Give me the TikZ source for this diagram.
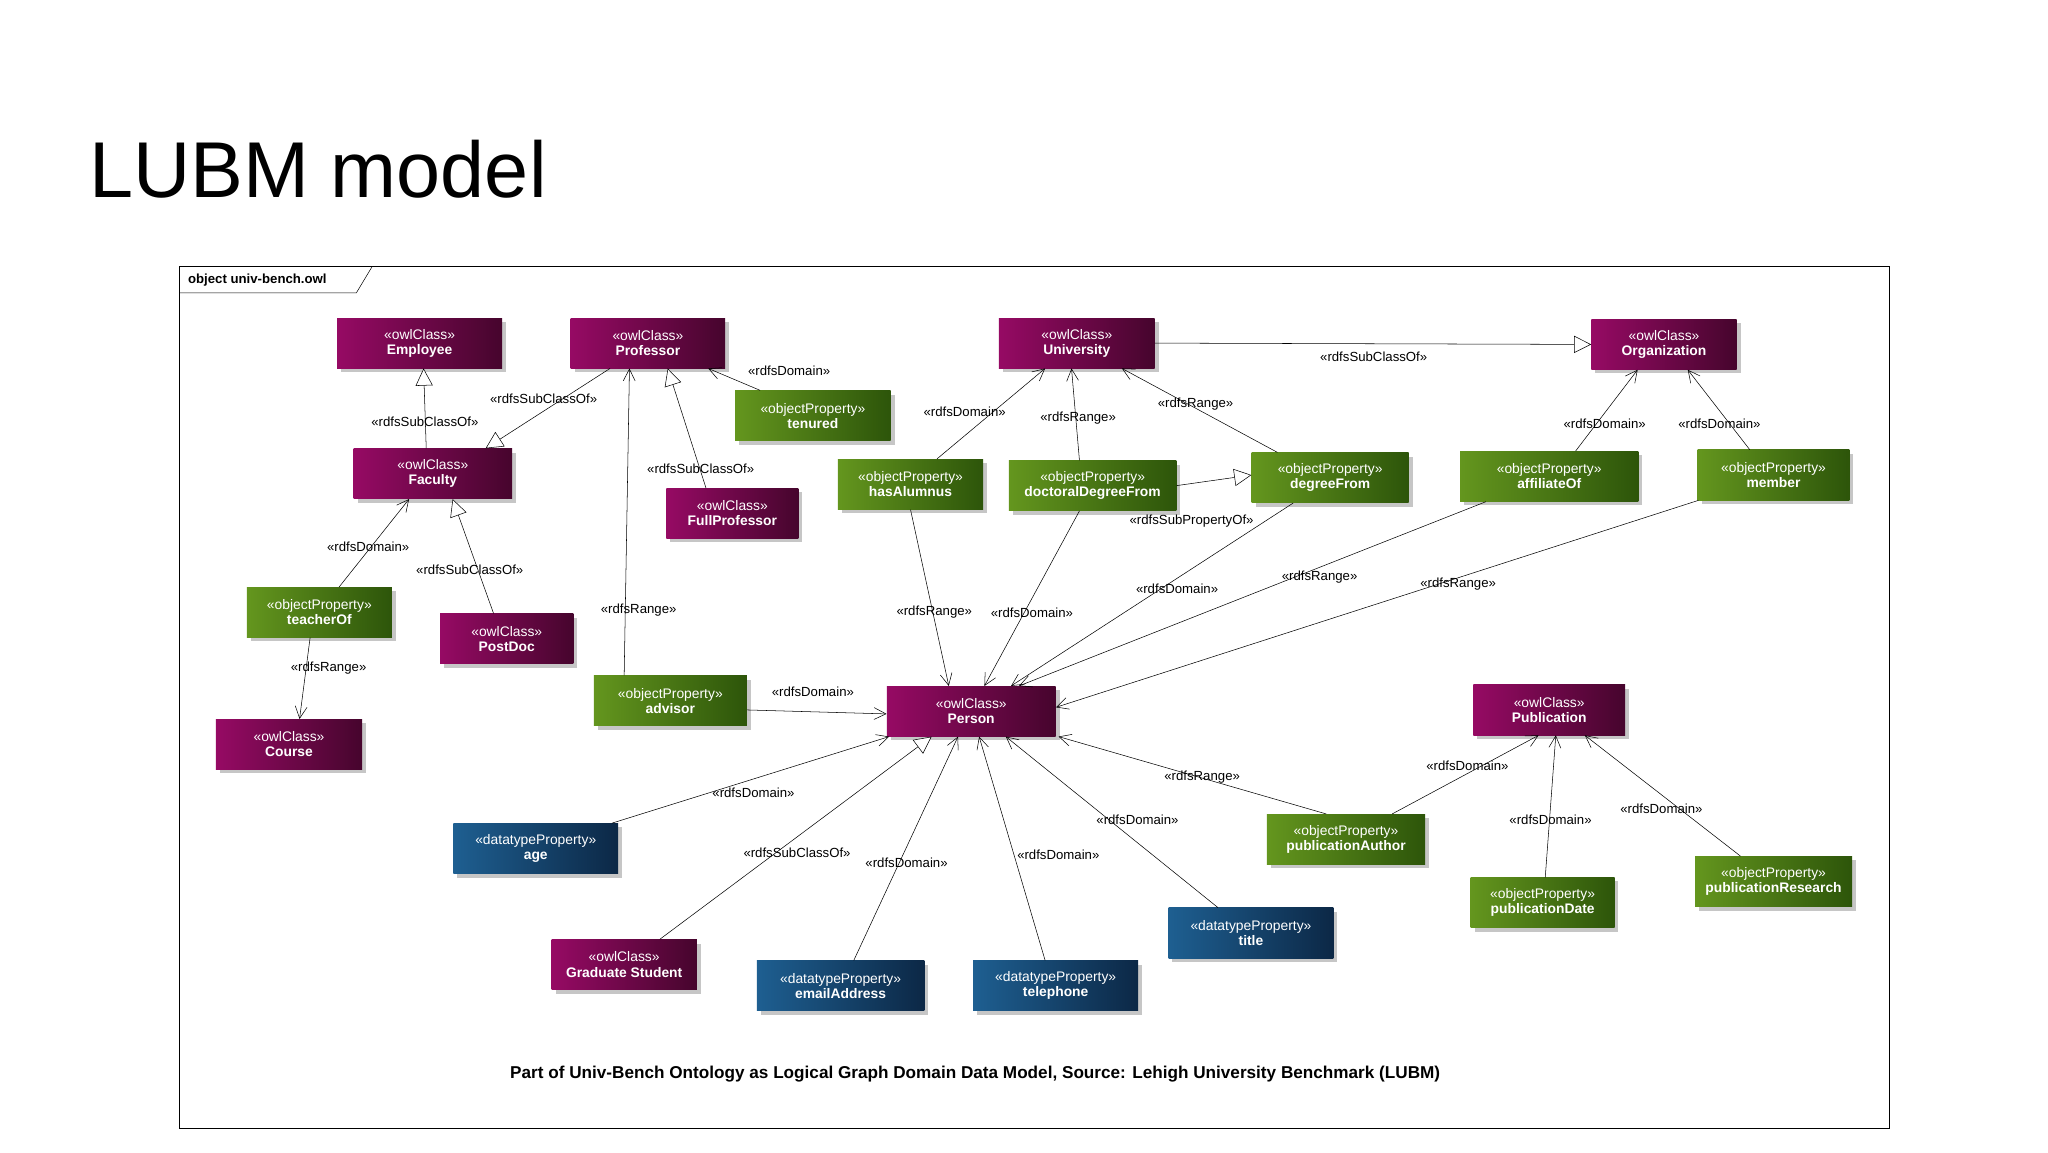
\documentclass[tikz,border=0pt]{standalone}
\usepackage{fontspec}
\setmainfont{Liberation Sans}
\usetikzlibrary{positioning, arrows.meta, shadows}
\definecolor{ClassLeft}{RGB}{150,10,100}
\definecolor{ClassRight}{RGB}{70,5,45}
\definecolor{ObjLeft}{RGB}{100,150,30}
\definecolor{ObjRight}{RGB}{45,85,10}
\definecolor{DataLeft}{RGB}{30,95,145}
\definecolor{DataRight}{RGB}{12,40,70}

\begin{document}
\begin{tikzpicture}[
    x=1pt, y=-1pt,
    every node/.style={font=\fontsize{10.5}{11.5}\selectfont},
    box/.style={draw=none, text=white, align=center, inner sep=0pt,
        minimum height=38pt, shading=axis, shading angle=90,
        drop shadow={shadow xshift=3pt, shadow yshift=-3pt, fill=gray!45, opacity=1}},
    owl/.style={box, left color=ClassLeft, right color=ClassRight},
    obj/.style={box, left color=ObjLeft, right color=ObjRight},
    dat/.style={box, left color=DataLeft, right color=DataRight},
    lbl/.style={font=\fontsize{10}{11}\selectfont, inner sep=1pt},
    dep/.style={draw=black, -{Straight Barb[length=9pt, width=9pt]}},
    gen/.style={draw=black, -{Triangle[open, length=13pt, width=13pt, fill=white]}},
]
\useasboundingbox (0,0) rectangle (1552,873);

% Title and frame
\node[font=\fontsize{60}{66}\selectfont, anchor=west] (title) at (64,128) {LUBM model};
\draw[thick] (136,202) rectangle (1432,855);
\draw (136,222) -- (270,222) -- (282,202);
\node[font=\fontsize{10}{11}\selectfont\bfseries, anchor=west] (frame) at (139,212) {object univ-bench.owl};
\node[font=\fontsize{13}{14}\selectfont\bfseries] (caption) at (739,814) {Part of Univ-Bench Ontology as Logical Graph Domain Data Model, Source: Lehigh University Benchmark (LUBM)};

% Classes
\node[owl, minimum width=125pt] (employee) at (318,260) {«owlClass»\\\textbf{Employee}};
\node[owl, minimum width=117pt] (professor) at (491,260) {«owlClass»\\\textbf{Professor}};
\node[owl, minimum width=118pt] (university) at (816,260) {«owlClass»\\\textbf{University}};
\node[owl, minimum width=110pt] (organization) at (1261,261) {«owlClass»\\\textbf{Organization}};
\node[owl, minimum width=120pt] (faculty) at (328,359) {«owlClass»\\\textbf{Faculty}};
\node[owl, minimum width=100pt] (fullprof) at (555,389) {«owlClass»\\\textbf{FullProfessor}};
\node[owl, minimum width=101pt] (postdoc) at (384,484) {«owlClass»\\\textbf{PostDoc}};
\node[owl, minimum width=111pt] (course) at (219,564) {«owlClass»\\\textbf{Course}};
\node[owl, minimum width=128pt] (person) at (736,539) {«owlClass»\\\textbf{Person}};
\node[owl, minimum width=115pt] (publication) at (1174,538) {«owlClass»\\\textbf{Publication}};
\node[owl, minimum width=110pt] (gradstudent) at (473,731) {«owlClass»\\\textbf{Graduate Student}};

% Object properties
\node[obj, minimum width=118pt] (tenured) at (616,315) {«objectProperty»\\\textbf{tenured}};
\node[obj, minimum width=110pt] (hasalumnus) at (690,367) {«objectProperty»\\\textbf{hasAlumnus}};
\node[obj, minimum width=127pt] (docdegree) at (828,368) {«objectProperty»\\\textbf{doctoralDegreeFrom}};
\node[obj, minimum width=119pt] (degreefrom) at (1008,362) {«objectProperty»\\\textbf{degreeFrom}};
\node[obj, minimum width=135pt] (affiliateof) at (1174,361) {«objectProperty»\\\textbf{affiliateOf}};
\node[obj, minimum width=115pt] (member) at (1344,360) {«objectProperty»\\\textbf{member}};
\node[obj, minimum width=110pt] (teacherof) at (242,464) {«objectProperty»\\\textbf{teacherOf}};
\node[obj, minimum width=116pt] (advisor) at (508,531) {«objectProperty»\\\textbf{advisor}};
\node[obj, minimum width=120pt] (pubauthor) at (1020,636) {«objectProperty»\\\textbf{publicationAuthor}};
\node[obj, minimum width=109pt] (pubdate) at (1169,684) {«objectProperty»\\\textbf{publicationDate}};
\node[obj, minimum width=119pt] (pubresearch) at (1344,668) {«objectProperty»\\\textbf{publicationResearch}};

% Datatype properties
\node[dat, minimum width=125pt] (age) at (406,643) {«datatypeProperty»\\\textbf{age}};
\node[dat, minimum width=125pt] (title2) at (948,707) {«datatypeProperty»\\\textbf{title}};
\node[dat, minimum width=127pt] (email) at (637,747) {«datatypeProperty»\\\textbf{emailAddress}};
\node[dat, minimum width=125pt] (telephone) at (800,747) {«datatypeProperty»\\\textbf{telephone}};

% Connectors
\draw[gen] ([xshift=-5pt]faculty.north) -- ([xshift=3pt]employee.south);
\draw[gen] ([xshift=30pt]professor.south west) -- ([xshift=40pt]faculty.north);
\draw[gen] ([xshift=-20pt]fullprof.north) -- ([xshift=15pt]professor.south);
\draw[dep] ([xshift=-40pt]tenured.north) -- ([xshift=-13pt]professor.south east);
\draw[dep] ([xshift=-35pt]advisor.north) -- ([xshift=-14pt]professor.south);
\draw[dep] ([xshift=15pt]teacherof.north) -- ([xshift=-18pt]faculty.south);
\draw[gen] ([xshift=-10pt]postdoc.north) -- ([xshift=15pt]faculty.south);
\draw[dep] ([xshift=-7pt]teacherof.south) -- ([xshift=8pt]course.north);
\draw[dep] ([yshift=-7pt]advisor.east) -- ([yshift=-2pt]person.west);
\draw[gen] (university.east) -- (organization.west);
\draw[dep] ([xshift=20pt]hasalumnus.north) -- ([xshift=-24pt]university.south);
\draw[dep] ([xshift=-10pt]docdegree.north) -- ([xshift=-4pt]university.south);
\draw[dep] ([xshift=-40pt]degreefrom.north) -- ([xshift=-25pt]university.south east);
\draw[gen] (docdegree.east) -- ([yshift=2pt]degreefrom.west);
\draw[dep] (hasalumnus.south) -- ([xshift=-17pt]person.north);
\draw[dep] ([xshift=-10pt]docdegree.south) -- ([xshift=10pt]person.north);
\draw[dep] ([xshift=-28pt]degreefrom.south) -- ([xshift=-34pt]person.north east);
\draw[dep] ([xshift=-48pt]affiliateof.south) -- ([xshift=-28pt]person.north east);
\draw[dep] ([xshift=20pt]affiliateof.north) -- ([xshift=-20pt]organization.south);
\draw[dep] ([xshift=-18pt]member.north) -- ([xshift=18pt]organization.south);
\draw[dep] ([xshift=-57pt]member.south) -- ([yshift=3pt]person.east);
\draw[dep] ([xshift=-5pt]age.north east) -- ([xshift=2pt]person.south west);
\draw[gen] ([xshift=27pt]gradstudent.north) -- ([xshift=-30pt]person.south);
\draw[dep] ([xshift=10pt]email.north) -- ([xshift=-10pt]person.south);
\draw[dep] ([xshift=-8pt]telephone.north) -- ([xshift=6pt]person.south);
\draw[dep] ([xshift=-25pt]title2.north) -- ([xshift=-38pt]person.south east);
\draw[dep] ([xshift=-15pt]pubauthor.north) -- ([xshift=2pt]person.south east);
\draw[dep] ([xshift=35pt]pubauthor.north) -- ([xshift=-8pt]publication.south);
\draw[dep] ([xshift=2pt]pubdate.north) -- ([xshift=5pt]publication.south);
\draw[dep] ([xshift=-25pt]pubresearch.north) -- ([xshift=27pt]publication.south);

% Connector labels
\foreach \n/\x/\y/\t in {
    l1/322/320/rdfsSubClassOf, l2/412/302/rdfsSubClassOf, l3/531/355/rdfsSubClassOf,
    l4/598/281/rdfsDomain, l5/484/462/rdfsRange, l6/279/414/rdfsDomain,
    l7/356/432/rdfsSubClassOf, l8/249/506/rdfsRange, l9/616/524/rdfsDomain,
    l10/1041/270/rdfsSubClassOf, l11/731/312/rdfsDomain, l12/817/317/rdfsRange,
    l13/906/306/rdfsRange, l14/903/395/rdfsSubPropertyOf, l15/708/464/rdfsRange,
    l16/782/464/rdfsDomain, l17/892/446/rdfsDomain, l18/1000/437/rdfsRange,
    l19/1216/321/rdfsDomain, l20/1303/321/rdfsDomain, l21/1105/443/rdfsRange,
    l22/571/601/rdfsDomain, l23/604/646/rdfsSubClassOf, l24/687/654/rdfsDomain,
    l25/802/648/rdfsDomain, l26/862/621/rdfsDomain, l27/911/589/rdfsRange,
    l28/1112/580/rdfsDomain, l29/1175/621/rdfsDomain, l30/1259/613/rdfsDomain}
    \node[lbl] (\n) at (\x,\y) {«\t»};

\end{tikzpicture}
\end{document}
